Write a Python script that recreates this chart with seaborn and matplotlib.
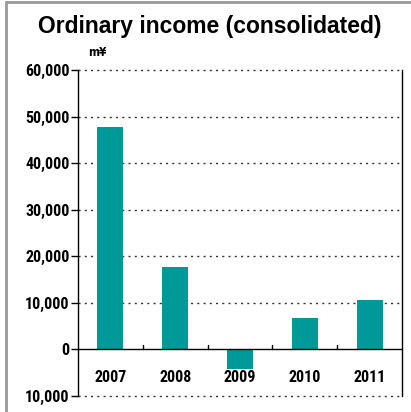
import matplotlib
matplotlib.use("Agg")
import matplotlib.pyplot as plt
import seaborn as sns
import pandas as pd
from matplotlib.lines import Line2D
from matplotlib import font_manager as fm

years = ["2007", "2008", "2009", "2010", "2011"]
income = [47700, 17800, -4300, 6700, 10700]
yticks = [-10000, 0, 10000, 20000, 30000, 40000, 50000, 60000]
ytick_labels = ["10,000", "0", "10,000", "20,000", "30,000", "40,000", "50,000", "60,000"]

sns.set_theme(style="white")
plt.rcParams['font.family'] = ['DejaVu Sans']
plt.rcParams['text.color'] = 'black'

names = sorted({f.name for f in fm.fontManager.ttflist})
narrow = None
for cand in ['Liberation Sans Narrow', 'Roboto Condensed', 'Open Sans Condensed', 'DejaVu Sans Condensed']:
    if cand in names:
        narrow = cand
        break
tick_font = fm.FontProperties(family=narrow if narrow else 'DejaVu Sans', weight='bold',
                              stretch='condensed', size=11.5)

df = pd.DataFrame({"year": years, "income": income})

fig = plt.figure(figsize=(4.11, 4.12), dpi=100)
ax = fig.add_axes([78/411, 1 - 396/412, (402 - 78)/411, (396 - 70)/412])

sns.barplot(data=df, x="year", y="income", color="#009999", width=0.4,
            saturation=1, ax=ax, edgecolor="none")

ax.set_ylim(-10000, 60000)
ax.set_xlim(-0.5, 4.5)
ax.set_yticks(yticks)
ax.set_yticklabels(ytick_labels)
for lab in ax.get_yticklabels():
    lab.set_fontproperties(tick_font)
    lab.set_color("black")
ax.tick_params(axis="y", left=True, length=5, width=1, color="black", pad=1)
ax.set_xlabel("")
ax.set_ylabel("")
ax.set_xticks([])

for y in yticks:
    if y == 0:
        continue
    ax.axhline(y, color="#333333", linestyle=(0, (1.5, 3)), linewidth=1, zorder=0, clip_on=False)

ax.axhline(0, color="black", linewidth=1, zorder=3)
for xb in [0.5, 1.5, 2.5, 3.5]:
    ax.plot([xb, xb], [0, 1000], color="black", linewidth=1, zorder=3)

for i, yr in enumerate(years):
    ax.text(i, -6000, yr, ha="center", va="center", fontproperties=tick_font, color="black")

for s in ["top", "bottom"]:
    ax.spines[s].set_visible(False)
for s in ["left", "right"]:
    ax.spines[s].set_visible(True)
    ax.spines[s].set_color("black")
    ax.spines[s].set_linewidth(1)

fig.text(210/411, 1 - 27/412, "Ordinary income (consolidated)", ha="center", va="center",
         fontsize=16.5, fontweight="bold", family=['Liberation Sans', 'DejaVu Sans'], color="black")
fig.text(97/411, 1 - 53/412, "m¥", ha="center", va="center", fontsize=8.5, fontweight="bold",
         family=['DejaVu Sans'], stretch='condensed', color="black")

fig.add_artist(Line2D([5.5/411, 5.5/411], [0, 1 - 1.5/412], color="#999999", linewidth=2, transform=fig.transFigure))
fig.add_artist(Line2D([5.5/411, 1], [1 - 1.5/412, 1 - 1.5/412], color="#999999", linewidth=2, transform=fig.transFigure))

fig.savefig("out.png", dpi=100)
